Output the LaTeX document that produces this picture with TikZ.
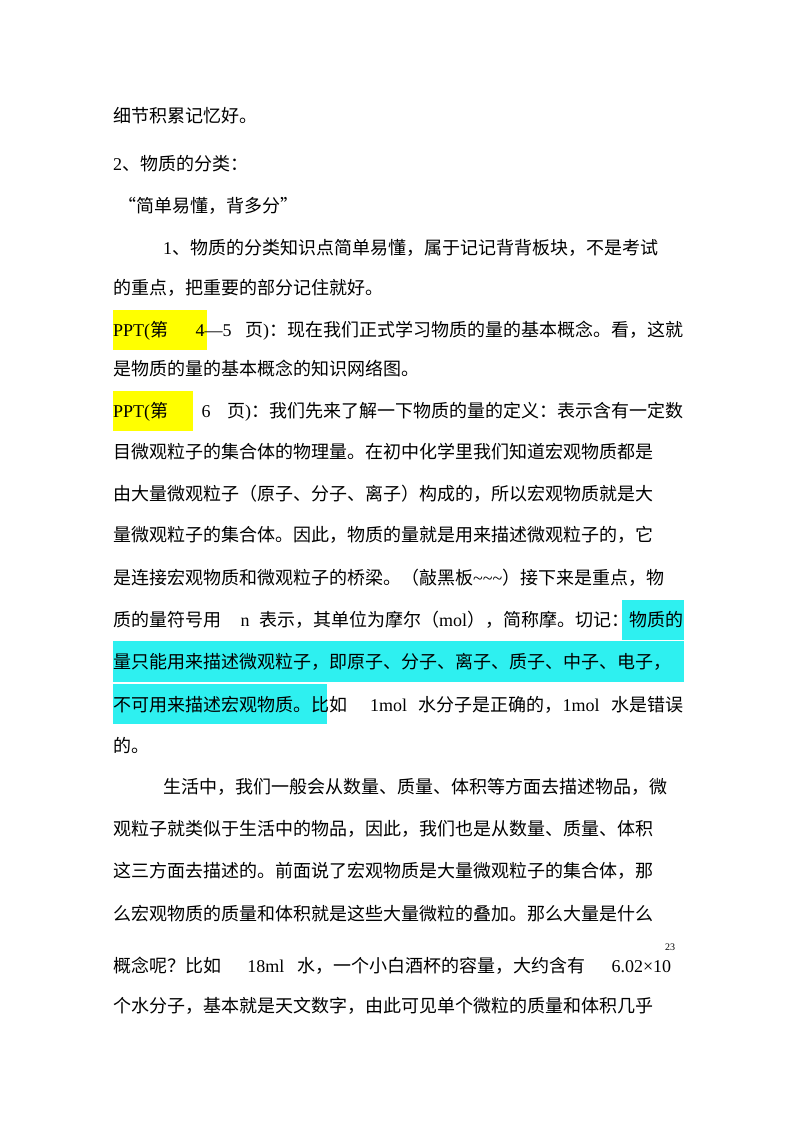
\documentclass[tikz,border=0pt]{standalone}
\usepackage{fontspec}
\setmainfont{Noto Sans CJK SC}
\newfontfamily\lat{Liberation Serif}
\XeTeXlinebreaklocale "zh"
\XeTeXlinebreakskip = 0pt plus 2pt
\definecolor{hlyellow}{HTML}{FFFF00}
\definecolor{hlcyan}{HTML}{2EF0F0}
\newcommand{\Lt}[1]{{\lat #1}}
\newcommand{\jline}[2]{\makebox[#1][s]{#2}}
\begin{document}
\begin{tikzpicture}[x=1pt,y=-1pt,
  txt/.style={anchor=base west,inner sep=0pt,font=\fontsize{18}{18}\selectfont}]
\useasboundingbox (0,0) rectangle (800,1132);
\fill[white] (0,0) rectangle (800,1132);
% highlights
\fill[hlyellow] (113,310) rectangle (207,350);
\fill[hlyellow] (113,391) rectangle (193,431);
\fill[hlcyan] (622,600) rectangle (684,640);
\fill[hlcyan] (113,641) rectangle (684,682);
\fill[hlcyan] (113,684) rectangle (327,724);
% text
\node[txt] (l1) at (113,122) {细节积累记忆好。};
\node[txt] (l2) at (113,170) {\Lt{2}、物质的分类：};
\node[txt] (l3) at (118,212) {“简单易懂，背多分”};
\node[txt] (l4) at (163,254) {\jline{520pt}{\Lt{1}、物质的分类知识点简单易懂，属于记记背背板块，不是考试}};
\node[txt] (l5) at (113,294) {的重点，把重要的部分记住就好。};
\node[txt] (l6) at (113,336) {\jline{570pt}{\Lt{PPT(}第\Lt{\ \ 4—5 }页\Lt{)}：现在我们正式学习物质的量的基本概念。看，这就}};
\node[txt] (l7) at (113,375) {是物质的量的基本概念的知识网络图。};
\node[txt] (l8) at (113,417) {\jline{570pt}{\Lt{PPT(}第\Lt{\ \ 6 }页\Lt{)}：我们先来了解一下物质的量的定义：表示含有一定数}};
\node[txt] (l9) at (113,458) {\jline{570pt}{目微观粒子的集合体的物理量。在初中化学里我们知道宏观物质都是}};
\node[txt] (l10) at (113,500) {\jline{570pt}{由大量微观粒子（原子、分子、离子）构成的，所以宏观物质就是大}};
\node[txt] (l11) at (113,541) {\jline{570pt}{量微观粒子的集合体。因此，物质的量就是用来描述微观粒子的，它}};
\node[txt] (l12) at (113,584) {\jline{570pt}{是连接宏观物质和微观粒子的桥梁。（敲黑板\Lt{\textasciitilde\textasciitilde\textasciitilde}）接下来是重点，物}};
\node[txt] (l13) at (113,626) {\jline{570pt}{质的量符号用\Lt{\ \ n }表示，其单位为摩尔（\Lt{mol}），简称摩。切记：物质的}};
\node[txt] (l14) at (113,668) {\jline{570pt}{量只能用来描述微观粒子，即原子、分子、离子、质子、中子、电子，}};
\node[txt] (l15) at (113,711) {\jline{570pt}{不可用来描述宏观物质。比如\Lt{\ \ 1mol }水分子是正确的，\Lt{1mol }水是错误}};
\node[txt] (l16) at (113,752) {的。};
\node[txt] (l17) at (163,793) {\jline{520pt}{生活中，我们一般会从数量、质量、体积等方面去描述物品，微}};
\node[txt] (l18) at (113,835) {\jline{570pt}{观粒子就类似于生活中的物品，因此，我们也是从数量、质量、体积}};
\node[txt] (l19) at (113,877) {\jline{570pt}{这三方面去描述的。前面说了宏观物质是大量微观粒子的集合体，那}};
\node[txt] (l20) at (113,920) {\jline{570pt}{么宏观物质的质量和体积就是这些大量微粒的叠加。那么大量是什么}};
\node[txt] (l21) at (113,972) {\jline{558pt}{概念呢？比如\Lt{\ \ 18ml }水，一个小白酒杯的容量，大约含有\Lt{\ \ 6.02×10}}};
\node[txt,font=\lat\fontsize{10}{10}\selectfont] (sup) at (665,950) {23};
\node[txt] (l22) at (113,1012) {\jline{570pt}{个水分子，基本就是天文数字，由此可见单个微粒的质量和体积几乎}};
\end{tikzpicture}
\end{document}
